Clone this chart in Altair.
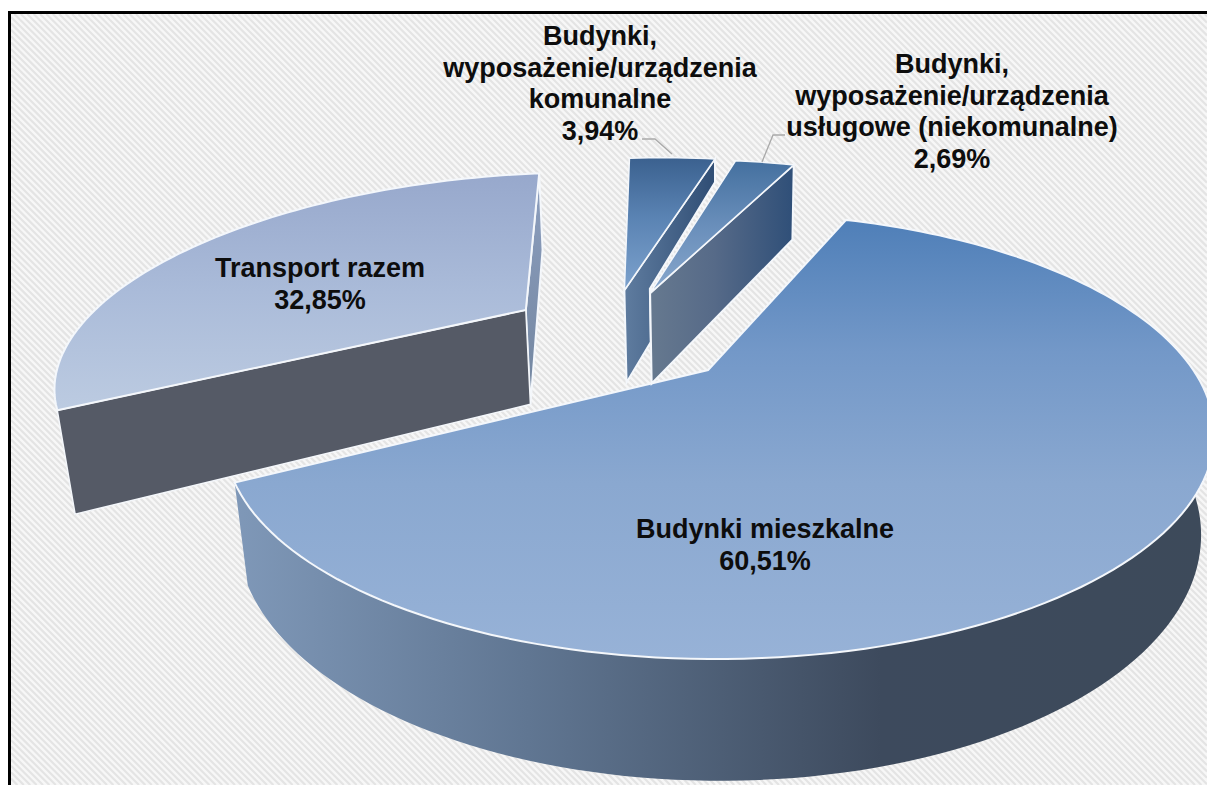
import math
import altair as alt

# Values
LABELS = [
    "Budynki mieszkalne",
    "Transport razem",
    "Budynki,\nwyposażenie/urządzenia\nkomunalne",
    "Budynki,\nwyposażenie/urządzenia\nusługowe (niekomunalne)",
]
SHARES = [60.51, 32.85, 3.94, 2.69]
SHARE_TEXT = ["60,51%", "32,85%", "3,94%", "2,69%"]

# Layout / styling parameters of the perspective pie (page pixels)
CX, CY, RX, RY = 720.0, 436.0, 495.0, 223.0
PX, PY, SQUASH = -0.024, -0.296, 0.955
DEPTH_Y, DEPTH_W = 96.0, 0.025
START = 21.3
EXPLODE = [(0.0, 0.0), (-0.43, -0.33), (-0.205, -0.448), (-0.142, -0.428)]
RADIUS = [1.0, 1.05, 1.07, 1.07]
DEPTH_K = [0.98, 1.08, 1.08, 1.05]
# perspective correction of each slice's start and end angle, degrees
ANGLE_ADJ = [(0.0, 2.2), (1.6, -2.2), (0.0, 0.0), (0.0, 0.0)]
LABEL_POS = [(765, 530), (320, 269), (600, 37), (952, 65)]
FONT = "Liberation Sans"
FS = 27
LH = 31.5
W, H = 1199, 777


def proj(U, V, h=0.0):
    w = 1 + PX * U + PY * V + DEPTH_W * h
    x = CX + RX * (SQUASH * U + PX) / w
    y = CY + (RY * (V + PY) + DEPTH_Y * h) / w
    return [x - 8, y - 8]


def rim_uv(theta, i):
    t = math.radians(theta)
    off = EXPLODE[i]
    return RADIUS[i] * math.sin(t) + off[0], -RADIUS[i] * math.cos(t) + off[1]


def arc_angles(a, b):
    n = max(2, int((b - a) / 1.5))
    return [a + (b - a) * i / n for i in range(n + 1)]


def poly(points):
    pts = list(points) + [points[0]]
    return {"type": "Feature", "properties": {},
            "geometry": {"type": "Polygon", "coordinates": [pts]}}


def lines(segments):
    return {"type": "Feature", "properties": {},
            "geometry": {"type": "MultiLineString", "coordinates": segments}}


def grad(stops, vertical=True):
    return alt.LinearGradient(
        gradient="linear",
        x1=0, x2=0 if vertical else 1, y1=0, y2=1 if vertical else 0,
        stops=[alt.GradientStop(offset=o, color=c) for o, c in stops],
    )


def shape(feature, **mark):
    return (alt.Chart(alt.InlineData(values=[feature]))
            .mark_geoshape(**mark)
            .project(type="identity", scale=1, translate=[0, 0]))


# slice angle ranges derived from the shares
angles = []
a = START
for s, (adj0, adj1) in zip(SHARES, ANGLE_ADJ):
    b = a + s * 3.6
    angles.append((a + adj0, b + adj1))
    a = b


def top_face(i):
    off = EXPLODE[i]
    pts = [proj(off[0], off[1])]
    pts += [proj(*rim_uv(t, i)) for t in arc_angles(*angles[i])]
    return poly(pts)


def radial_wall(i, theta):
    off = EXPLODE[i]
    k = DEPTH_K[i]
    u, v = rim_uv(theta, i)
    return poly([proj(off[0], off[1]), proj(u, v), proj(u, v, k), proj(off[0], off[1], k)])


def outer_wall(i):
    k = DEPTH_K[i]
    ts = arc_angles(*angles[i])
    top = [proj(*rim_uv(t, i)) for t in ts]
    bot = [proj(*rim_uv(t, i), k) for t in reversed(ts)]
    return poly(top + bot)


# background hatch
X0, Y0 = 3.0, 6.0
c = X0 - H
hatch = []
while c < W:
    sx = max(X0, c + Y0)
    ex = min(W, H + c)
    if ex > sx:
        hatch.append([[sx, sx - c], [ex, ex - c]])
    c += 6.4

layers = [
    shape(poly([[X0, Y0], [W, Y0], [W, H], [X0, H]]), fill="#f7f7f7", stroke=None),
    shape(lines(hatch), filled=False, stroke="#e4e4e4", strokeWidth=2.2),
    shape(lines([[[1.5, H], [1.5, 4.5], [W, 4.5]]]), filled=False, stroke="#000000", strokeWidth=3),
]

WHITE = dict(stroke="#f4f7fb", strokeWidth=2)

# Transport
layers += [
    shape(radial_wall(1, angles[1][1]),
          fill=grad([(0, "#8d9fbf"), (1, "#72859f")]), **WHITE),
    shape(radial_wall(1, angles[1][0]), fill="#555a66", stroke="#f4f7fb", strokeWidth=1.5),
    shape(top_face(1),
          fill=grad([(0, "#97a8cc"), (0.5, "#aabbd9"), (1, "#bccbe1")]), **WHITE),
]

# Main slice
layers += [
    shape(outer_wall(0),
          fill=grad([(0, "#7f98b8"), (0.3, "#607692"), (0.66, "#3d4a5d"), (1, "#3d4a5a")], vertical=False)),
    shape(top_face(0),
          fill=grad([(0, "#4f7fb8"), (0.3, "#7398c8"), (0.6, "#8aa8d0"), (1, "#97b2d7")]),
          **WHITE),
]

# Slice 3: its wall is only partly drawn in the reference
off3 = EXPLODE[2]
k3 = DEPTH_K[2]
u3, v3 = rim_uv(angles[2][1], 2)
r = 0.23
um, vm = off3[0] + (u3 - off3[0]) * r, off3[1] + (v3 - off3[1]) * r
wall3 = poly([
    proj(off3[0], off3[1]), proj(u3, v3), proj(u3, v3, 0.33),
    proj(um, vm, 0.42), proj(um, vm, k3), proj(off3[0], off3[1], k3),
])
layers += [
    shape(wall3, fill=grad([(0, "#5f7c9f"), (1, "#2f4d74")], vertical=False), **WHITE),
    shape(top_face(2), fill=grad([(0, "#3b618f"), (0.45, "#5a83b3"), (1, "#7da2cd")]),
          stroke="#f4f7fb", strokeWidth=1.5),
]

# Slice 4
layers += [
    shape(radial_wall(3, angles[3][1]),
          fill=grad([(0, "#66798f"), (0.45, "#566a88"), (1, "#2f4f78")], vertical=False), **WHITE),
    shape(top_face(3), fill=grad([(0, "#44709f"), (0.5, "#6a8fbb"), (1, "#88a7cc")]),
          stroke="#f4f7fb", strokeWidth=1.5),
]

# Leader lines
leader = lines([
    [[634, 131], [647, 131], [664, 146]],
    [[754, 154], [765, 127], [777, 127]],
])
layers.append(shape(leader, filled=False, stroke="#a9a9a9", strokeWidth=1.3))

# Labels
for label, pct, (px, py) in zip(LABELS, SHARE_TEXT, LABEL_POS):
    text = label + "\n" + pct
    layers.append(
        alt.Chart(alt.InlineData(values=[{"t": text}]))
        .mark_text(font=FONT, fontSize=FS, fontWeight="bold", color="#0d0d0d",
                   align="center", baseline="middle", lineBreak="\n", lineHeight=LH)
        .encode(x=alt.value(px - 8), y=alt.value(py - 8), text="t:N")
    )

chart = (
    alt.layer(*layers)
    .properties(width=W, height=H, padding=0, background="white")
    .configure_view(stroke=None)
)
chart.save("out.html", embed_options={"renderer": "svg", "actions": False})
